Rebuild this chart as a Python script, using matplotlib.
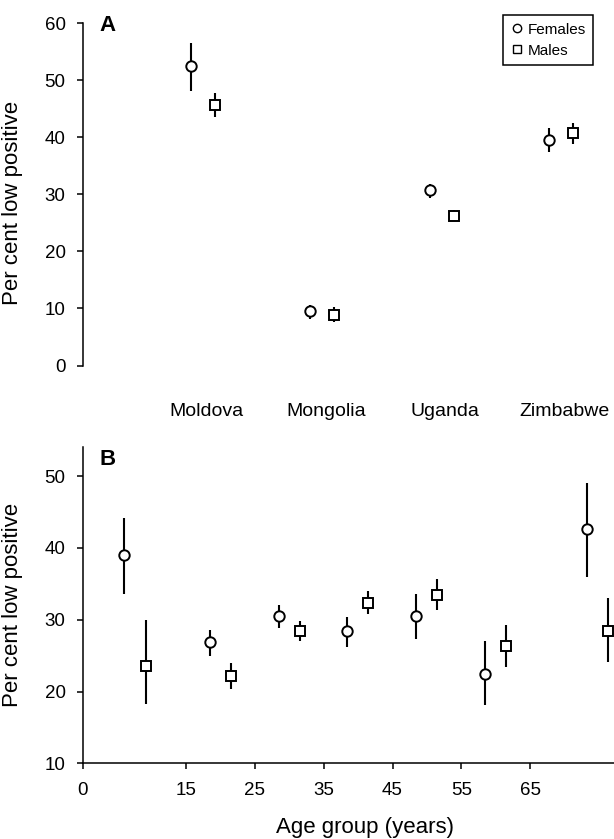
import matplotlib
matplotlib.use("Agg")
import matplotlib.pyplot as plt
from matplotlib.lines import Line2D

plt.rcParams["font.family"] = ["Liberation Sans", "DejaVu Sans"]

# Panel A: by country
countries = ["Moldova", "Mongolia", "Uganda", "Zimbabwe"]
females_a = [52.5, 9.6, 30.8, 39.6]
females_a_lo = [48.2, 8.2, 29.4, 37.5]
females_a_hi = [56.5, 10.6, 31.9, 41.6]
males_a = [45.7, 8.9, 26.2, 40.7]
males_a_lo = [43.5, 7.7, 25.4, 38.8]
males_a_hi = [47.8, 10.2, 27.2, 42.6]

# Panel B: by age group
age_females = [6.0, 18.5, 28.5, 38.4, 48.4, 58.4, 73.3]
females_b = [39.0, 26.9, 30.5, 28.4, 30.5, 22.4, 42.6]
females_b_lo = [33.6, 24.9, 28.9, 26.2, 27.3, 18.1, 36.0]
females_b_hi = [44.2, 28.6, 32.0, 30.4, 33.6, 27.0, 49.1]
age_males = [9.1, 21.5, 31.5, 41.5, 51.5, 61.5, 76.3]
males_b = [23.6, 22.2, 28.4, 32.3, 33.5, 26.3, 28.4]
males_b_lo = [18.2, 20.4, 27.0, 30.8, 31.4, 23.4, 24.1]
males_b_hi = [30.0, 24.0, 29.8, 34.0, 35.7, 29.3, 33.0]

age_ticks = [0, 15, 25, 35, 45, 55, 65]


def err(vals, lo, hi):
    return [[v - l for v, l in zip(vals, lo)], [h - v for v, h in zip(vals, hi)]]


def draw_points(ax, x, y, lo, hi, marker):
    ax.errorbar(
        x, y, yerr=err(y, lo, hi), fmt=marker, color="black",
        markerfacecolor="white", markeredgecolor="black", markersize=7.5,
        markeredgewidth=1.4, elinewidth=1.5, capsize=0, clip_on=False, zorder=3,
    )


def style_axes(ax):
    for side in ["top", "right"]:
        ax.spines[side].set_visible(False)
    for spine in ax.spines.values():
        spine.set_linewidth(1.1)
    ax.tick_params(axis="y", length=4.5, width=1.1, pad=8, labelsize=13.5)


W, H = 614, 839
fig = plt.figure(figsize=(W / 100, H / 100), dpi=100)

# ---- Panel A
ax_a = fig.add_axes([83 / W, 1 - 365.5 / H, 1 - 83 / W, (365.5 - 23.3) / H])
cat_x = list(range(1, len(countries) + 1))
draw_points(ax_a, [c - 0.1 for c in cat_x], females_a, females_a_lo, females_a_hi, "o")
draw_points(ax_a, [c + 0.1 for c in cat_x], males_a, males_a_lo, males_a_hi, "s")
style_axes(ax_a)
ax_a.spines["bottom"].set_visible(False)
ax_a.set_xlim(0, 4.44)
ax_a.set_ylim(0, 60)
ax_a.set_yticks(range(0, 61, 10))
ax_a.set_xticks([c + 0.03 for c in cat_x])
ax_a.set_xticklabels(countries)
ax_a.tick_params(axis="x", length=0, pad=27, labelsize=14)
ax_a.set_ylabel("Per cent low positive", fontsize=16)
ax_a.yaxis.set_label_coords(-0.113, (365.5 - 203) / 342.2)
ax_a.text(0.047, 0.993, "A", transform=ax_a.transAxes, fontsize=16,
          fontweight="bold", ha="center", va="center")

handles = [
    Line2D([], [], marker="o", linestyle="none", markerfacecolor="white",
           markeredgecolor="black", markersize=6, markeredgewidth=1.0),
    Line2D([], [], marker="s", linestyle="none", markerfacecolor="white",
           markeredgecolor="black", markersize=6, markeredgewidth=1.0),
]
leg = fig.legend(
    handles, ["Females", "Males"], loc="upper left",
    bbox_to_anchor=(503 / W, 1 - 15 / H), bbox_transform=fig.transFigure,
    fontsize=11, fancybox=False, edgecolor="black", framealpha=1,
    borderaxespad=0, handlelength=0.8, handletextpad=0.3, labelspacing=0.45,
    borderpad=0.5,
)
leg.get_frame().set_linewidth(1.1)

# ---- Panel B
ax_b = fig.add_axes([83 / W, 1 - 763.3 / H, 1 - 83 / W, (763.3 - 446.7) / H])
draw_points(ax_b, age_females, females_b, females_b_lo, females_b_hi, "o")
draw_points(ax_b, age_males, males_b, males_b_lo, males_b_hi, "s")
style_axes(ax_b)
ax_b.set_xlim(0, 77.2)
ax_b.set_ylim(10, 54.1)
ax_b.set_yticks(range(10, 51, 10))
ax_b.set_xticks(age_ticks)
ax_b.tick_params(axis="x", length=4.5, width=1.1, pad=9, labelsize=13.5)
ax_b.set_ylabel("Per cent low positive", fontsize=16)
ax_b.yaxis.set_label_coords(-0.113, 0.5)
ax_b.set_xlabel("Age group (years)", fontsize=16)
ax_b.xaxis.set_label_coords((365 - 83) / (W - 83), -(827 - 763.3) / 316.6)
ax_b.xaxis.label.set_va("center")
ax_b.text(0.047, 0.961, "B", transform=ax_b.transAxes, fontsize=16,
          fontweight="bold", ha="center", va="center")

fig.savefig("out.png", dpi=100)
